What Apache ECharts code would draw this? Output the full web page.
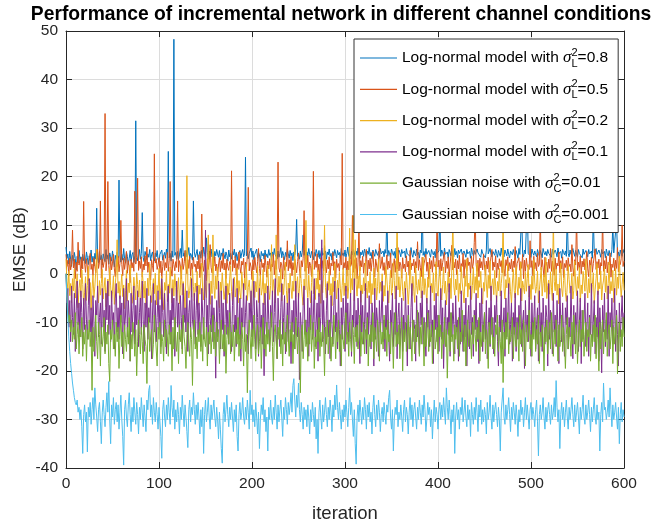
<!DOCTYPE html>
<html>
<head>
<meta charset="utf-8">
<title>EMSE of incremental network</title>
<script src="https://cdn.jsdelivr.net/npm/echarts@6/dist/echarts.min.js"></script>
<style>
  html, body { margin: 0; padding: 0; background: #fff; }
  #chart { width: 653px; height: 527px; }
</style>
</head>
<body>
<div id="chart"></div>
<script>
// EMSE (dB) per iteration, log-normal channel with sigma_L^2 = 0.8
const emseL08 = [
5.5,3.2,4.1,2.0,4.6,3.0,1.5,3.8,2.6,4.4,3.1,0.8,3.6,2.2,4.8,2.9,3.5,1.2,4.0,2.7,
3.9,2.1,4.5,3.3,1.9,3.7,2.8,4.9,2.4,3.6,1.6,4.2,3.0,13.5,3.4,2.2,4.6,2.9,3.8,1.8,
4.1,3.2,2.5,5.0,3.0,3.9,2.0,4.3,3.5,2.6,4.7,3.1,1.4,3.8,2.9,4.4,3.3,19.3,3.9,2.4,
4.0,2.8,5.2,3.1,2.2,4.5,3.6,1.9,3.2,4.8,2.6,3.9,4.4,2.3,3.7,31.5,4.1,2.7,3.5,5.0,
3.0,4.2,12.6,3.3,2.5,4.6,3.8,2.9,4.1,3.4,5.0,2.7,3.9,4.5,3.1,2.6,4.3,3.5,4.8,3.0,
2.4,4.0,3.6,4.9,2.8,3.7,4.4,3.2,5.1,3.9,25.2,3.3,4.2,2.6,4.7,3.4,48.3,3.8,4.4,3.0,
4.6,2.9,3.9,5.2,3.3,9.0,3.6,4.3,2.7,4.8,3.5,4.0,5.4,3.1,4.2,3.7,2.8,15.0,4.5,3.4,
4.1,5.0,2.9,3.8,4.6,3.2,4.9,3.6,5.5,4.0,3.3,7.4,4.4,3.0,4.7,3.9,5.1,3.5,4.2,2.8,
4.6,3.7,5.0,4.1,3.4,4.8,2.9,4.3,3.6,5.2,4.0,3.1,4.5,3.8,2.6,4.9,3.5,4.2,3.0,4.6,
3.9,5.1,3.3,4.4,2.7,4.0,3.6,4.8,3.2,4.3,5.0,3.5,4.1,24.0,3.7,4.6,3.1,4.2,3.8,5.3,
3.4,4.7,2.9,4.0,3.6,5.1,3.2,4.4,3.9,2.5,4.6,3.7,4.2,3.0,4.9,3.5,4.1,3.3,5.0,3.8,
4.3,2.8,4.5,3.6,5.2,3.9,4.0,3.1,4.7,3.4,4.2,5.4,3.3,4.6,3.8,2.9,4.4,3.5,5.0,4.1,
3.2,4.8,3.7,4.3,2.7,4.5,3.9,5.1,11.2,3.6,4.2,3.0,4.7,3.5,4.4,8.0,3.8,4.9,3.1,4.5,
3.7,5.2,4.0,3.3,4.6,3.9,2.9,4.4,3.6,5.0,4.2,3.4,4.8,3.1,4.3,5.3,3.8,4.1,3.5,4.7,
3.0,4.5,3.9,5.1,3.6,4.2,2.8,4.6,3.7,5.0,4.1,3.3,4.8,3.9,4.4,3.2,5.2,3.8,4.3,3.6,
4.9,3.4,4.2,5.5,3.7,4.0,3.1,4.6,3.9,5.0,4.3,3.5,4.7,3.8,5.3,4.1,3.2,4.5,3.9,4.8,
3.6,5.1,4.2,3.3,4.7,4.0,5.4,3.7,4.4,3.1,4.9,4.2,3.6,5.0,4.3,3.8,4.6,3.4,5.2,4.1,
3.9,4.7,3.5,5.0,4.2,12.0,3.6,4.8,4.1,3.3,5.1,4.4,3.8,4.6,3.2,5.3,4.0,3.7,4.9,4.3,
3.5,5.0,4.2,3.9,4.7,3.3,5.2,4.1,3.8,4.5,3.6,5.4,4.0,3.4,4.8,4.2,3.7,5.1,3.9,4.4,
3.2,4.9,4.3,14.0,3.8,4.6,3.5,5.2,4.0,3.7,4.8,4.1,3.4,5.0,4.4,3.9,4.6,3.3,5.1,4.2,
3.8,4.7,12.0,3.6,4.9,4.3,3.5,5.3,4.0,3.8,4.5,3.2,5.0,4.4,3.7,4.8,4.1,3.5,5.2,3.9,
4.6,3.3,4.9,4.2,3.8,5.1,4.0,3.6,4.7,4.3,3.4,5.0,4.1,3.9,4.6,3.2,5.3,4.4,3.7,4.8,
4.0,3.6,5.1,4.3,3.9,4.7,3.4,5.0,4.2,3.8,4.5,3.3,4.9,13.0,4.1,3.7,5.2,4.0,3.5,4.6,
4.3,3.8,5.0,4.2,3.4,4.8,4.1,3.6,5.3,3.9,4.4,3.5,4.9,4.2,3.7,5.1,4.0,3.3,4.7,4.3,
3.9,5.0,4.1,3.6,4.8,4.4,3.2,5.2,4.0,3.8,12.0,4.3,3.5,4.9,4.1,3.7,15.0,4.2,3.9,4.6,
3.4,5.1,4.3,3.8,4.7,4.0,3.5,5.0,4.2,3.6,4.8,4.1,3.3,5.2,4.4,3.9,4.6,3.7,5.0,4.2,
3.8,4.5,3.4,5.1,4.0,3.7,4.9,4.3,3.5,5.3,4.1,3.8,4.6,3.2,5.0,4.4,3.9,4.7,3.6,12.0,
4.2,3.5,4.9,4.0,3.8,5.2,4.3,3.6,4.8,4.1,3.4,5.0,4.2,3.9,4.6,3.3,5.1,4.0,3.7,4.8,
4.4,3.5,5.0,4.1,3.8,4.7,3.2,12.0,4.3,3.9,5.2,4.0,3.6,4.9,4.2,3.4,5.0,4.1,3.8,4.6,
3.3,5.1,4.2,3.7,4.8,4.0,3.5,5.0,10.0,4.3,3.9,4.6,11.0,3.8,4.5,3.2,4.9,4.1,3.6,5.0,
4.2
];

// sigma_L^2 = 0.5
const emseL05 = [
4.0,1.5,2.8,-0.5,3.2,0.8,2.1,9.0,1.2,3.0,-1.0,2.4,0.5,6.5,1.8,2.9,-0.8,3.4,1.0,14.9,
2.2,0.3,3.1,1.4,-1.5,2.6,4.2,0.9,2.0,-0.3,3.3,1.6,0.2,2.7,5.0,1.1,2.4,15.0,-0.9,3.0,
1.3,2.5,33.0,0.6,2.9,19.0,1.7,-1.2,3.5,0.8,2.2,4.0,1.0,-0.6,2.8,1.5,3.6,0.4,2.1,11.0,
1.9,-0.4,3.2,0.9,2.5,4.6,0.1,2.7,1.4,-1.8,3.0,1.2,2.3,0.5,17.0,2.0,3.4,19.7,0.7,2.6,
1.1,3.5,-0.7,2.0,0.8,3.7,1.6,5.5,0.3,2.4,1.0,-1.3,2.9,1.7,0.4,24.7,2.2,3.1,0.9,1.8,
3.3,0.2,2.6,-0.9,1.5,3.8,0.7,2.3,1.2,4.4,0.5,2.8,19.0,1.0,-0.5,3.0,1.9,0.6,2.5,1.3,
15.0,0.4,2.7,1.6,-1.1,3.2,0.9,2.1,4.8,1.4,0.0,2.9,1.1,3.6,-0.4,2.2,0.8,3.4,1.5,2.0,
0.3,2.6,1.0,3.9,-0.8,2.3,12.3,1.7,0.5,2.8,1.2,-1.4,3.1,0.9,2.4,6.0,1.3,0.2,2.9,1.6,
3.5,0.6,2.0,-0.6,1.8,3.3,0.4,2.7,1.1,4.2,0.8,2.2,-1.0,3.0,1.4,0.7,2.5,1.9,21.2,0.5,
2.8,1.2,3.6,-0.3,2.1,0.9,4.5,1.5,0.1,2.6,1.8,3.2,-0.9,2.4,1.0,3.7,17.8,0.6,2.3,1.4,
-1.2,2.9,0.8,3.4,1.6,0.2,2.5,5.2,1.1,-0.5,3.0,1.3,2.2,0.4,3.8,1.7,-0.7,2.6,1.0,3.1,
0.5,2.0,1.4,4.0,-0.2,2.7,0.9,3.3,23.0,1.2,0.3,2.4,1.8,-1.1,3.5,0.7,2.1,1.5,6.8,0.6,
2.9,1.1,3.6,-0.4,2.3,0.8,3.0,1.6,0.2,2.5,4.3,1.0,-0.8,2.7,1.4,3.2,13.0,0.5,2.2,1.2,
3.8,0.0,2.4,1.7,-0.6,3.1,21.1,0.9,2.6,1.3,4.1,0.4,2.0,-1.3,3.3,1.1,2.7,0.6,5.8,1.5,
0.2,2.8,1.0,3.5,-0.3,2.2,1.6,4.4,0.7,2.5,-0.9,3.0,1.3,2.1,0.5,3.7,1.8,24.8,0.9,2.3,
1.2,3.4,-0.5,2.6,0.8,4.0,1.5,2.0,12.0,0.3,2.9,1.1,3.3,-1.0,2.4,10.0,0.6,2.7,1.4,3.6,
0.1,2.2,1.7,5.0,-0.4,2.8,1.0,3.2,0.5,2.4,4.6,1.3,-0.7,3.0,1.8,0.4,2.5,6.2,1.1,2.0,
3.5,0.7,2.3,-0.2,1.6,3.9,0.9,2.6,1.2,4.3,-0.8,2.1,1.5,3.1,0.3,2.7,1.0,5.4,0.6,2.4,
1.8,-0.9,3.3,1.1,2.0,0.4,3.7,1.4,2.6,-0.3,4.8,0.8,2.2,1.6,3.0,0.2,2.5,1.2,6.6,0.7,
2.9,1.3,-0.6,3.4,0.9,2.1,1.7,4.0,0.5,2.4,-1.1,3.2,1.0,2.7,0.3,3.6,1.5,2.0,0.8,12.0,
1.4,2.8,-0.4,3.1,0.6,2.3,1.9,4.5,0.2,2.6,1.1,3.5,-0.7,2.0,1.6,5.9,0.8,2.4,1.2,3.0,
-0.2,2.7,1.0,3.8,0.4,2.1,1.5,4.2,-0.9,2.9,1.3,0.6,3.3,1.7,2.4,0.0,3.6,1.1,2.2,6.4,
12.0,1.9,0.5,2.8,-0.6,3.2,1.2,2.5,0.8,4.1,1.6,-0.3,2.6,1.0,3.4,0.3,2.0,1.8,5.0,0.7,
2.4,1.4,3.7,-0.8,2.2,0.9,3.1,1.5,2.7,0.2,4.4,1.1,-0.5,2.9,1.7,3.5,0.6,2.3,1.0,3.0,
0.4,2.6,1.3,5.6,-0.2,2.1,1.8,3.3,0.7,2.5,1.1,4.0,-1.0,2.8,0.5,3.2,1.6,2.0,0.9,6.8,
1.3,2.7,-0.4,3.6,1.0,2.3,0.6,4.2,1.5,2.0,12.0,0.8,2.9,1.2,-0.7,3.4,1.7,2.4,0.3,3.0,
1.1,5.2,0.5,2.6,1.4,-0.3,3.2,0.9,2.2,1.6,4.5,0.2,2.7,1.0,3.5,-0.8,2.1,1.3,2.8,0.6,
3.3,1.5,2.0,0.4,6.0,1.2,-0.5,2.9,1.8,12.0,0.7,2.4,1.1,3.7,0.0,2.6,1.4,3.1,0.8,2.2,
4.6,1.0,-0.6,2.8,1.5,3.4,0.3,2.1,1.7,5.1,0.9,2.5,1.2,3.0,-0.2,2.3,1.6,12.0,0.5,2.7,
1.0,3.6,0.2,2.4,1.8,4.3,-0.7,2.0,1.3,3.2,0.6,2.8,1.1,5.4,0.4,2.5,1.9,3.1,10.0,1.5,
2.6
];

// sigma_L^2 = 0.2
const emseL02 = [
3.0,-1.5,-3.0,0.5,-4.5,-2.0,-6.0,-1.0,-3.5,1.0,-5.0,-2.5,0.0,-7.0,-3.0,-1.2,-4.8,0.8,-2.2,-6.5,
-3.8,-0.6,-5.5,-2.4,1.5,-4.2,-1.8,-7.5,-3.1,-0.2,-4.9,-2.7,0.6,5.0,-3.6,-6.0,-1.4,-4.4,-2.0,0.9,
-5.2,-2.9,-0.8,-6.8,-3.3,-1.1,-4.6,1.2,-2.5,-5.8,-3.7,-0.4,-6.3,-2.1,0.3,7.0,-4.0,-1.6,-5.1,-2.8,
-0.1,-4.7,-2.3,-7.2,-3.4,0.7,-5.6,-1.9,-3.9,1.8,-2.6,-6.1,-4.3,-0.7,-3.0,-5.4,0.2,-2.2,-4.8,-1.3,
-6.6,-3.5,0.4,-2.0,-5.0,-1.5,-7.0,-3.8,-0.9,-4.5,2.0,-2.7,-5.9,-3.2,-1.0,-4.1,0.1,-6.4,-2.4,-3.6,
1.1,-5.3,-2.9,-0.5,-4.7,-7.4,-1.8,-3.4,0.6,-5.7,-2.2,-4.0,1.4,-3.1,-6.0,-1.2,-4.6,0.0,-2.8,-5.5,
-3.3,-0.8,-6.2,-2.5,1.6,-4.4,-1.6,-3.9,-7.1,0.3,20.2,-2.1,-5.0,-3.5,-0.6,-4.8,1.0,-2.6,-5.6,-1.9,
-3.7,0.5,-6.5,-2.3,-4.2,-1.0,2.2,-3.6,-5.4,-0.3,-2.9,-4.9,0.9,8.0,-3.0,-6.3,-1.5,-4.1,8.0,-2.4,
-5.1,-0.4,-3.2,1.3,-4.5,-7.0,-1.7,-3.8,0.2,-2.7,-5.3,-3.4,0.8,-6.1,-2.0,-4.3,-1.1,1.7,-3.6,-5.7,
-2.5,-0.7,-4.8,-3.0,1.2,-6.0,-1.4,-3.9,-5.2,0.4,-2.3,-4.6,-0.9,-3.3,2.0,-5.5,-2.8,-1.3,-4.2,-6.7,
-3.1,0.6,-2.2,-4.9,-1.6,-3.7,1.5,-5.9,-2.6,-0.2,-4.4,-3.2,0.9,-6.4,-2.0,-4.0,-1.0,1.8,-3.5,-5.3,
-2.4,6.0,-4.7,-1.2,-3.0,-6.0,8.0,-2.7,-4.5,-0.5,-3.8,1.0,-5.6,-2.1,-4.3,-0.8,2.4,-3.4,-6.2,-1.9,
-4.0,0.1,-2.9,-5.1,-1.5,-3.6,6.0,-4.8,-2.3,-0.6,-5.4,-3.1,1.3,-2.0,-4.6,-6.5,-1.1,-3.3,11.0,-2.5,
-4.9,-0.3,-3.6,-6.0,-1.8,1.9,-4.1,-2.6,-5.3,-0.9,-3.2,0.7,-4.7,-2.2,-6.1,-1.4,-3.9,-0.1,10.0,-2.8,
-5.0,-1.6,-3.4,0.5,-4.4,-2.0,-6.6,-0.7,-3.7,2.1,-2.5,-5.2,-1.3,-4.0,0.3,-3.1,-5.8,-2.4,1.1,-4.5,
-1.9,-3.6,0.8,-5.1,-2.7,9.4,-4.2,-1.0,-3.3,12.0,-5.6,7.0,-2.1,-4.6,-0.4,-3.0,1.6,-5.9,-2.3,-4.1,
-0.8,-3.5,2.6,-2.8,-5.0,-1.5,-3.9,0.4,-6.2,-2.0,-4.3,1.2,-3.1,-0.9,-5.4,-2.6,3.0,-4.0,-1.7,-3.6,
0.0,-5.7,-2.4,-4.6,1.5,-1.1,-3.8,-6.0,-2.2,0.7,-4.4,-3.0,2.3,-1.4,-5.2,-2.7,12.0,-3.3,-0.6,-4.8,
-2.1,1.0,-3.7,-5.5,-1.6,-4.1,0.3,-2.9,-6.3,-3.2,2.8,-1.9,-4.5,-0.5,-3.6,-5.9,1.7,-2.4,-4.2,-1.2,
-3.4,0.6,-5.0,-2.6,3.4,-4.3,-1.0,-3.1,-6.1,-0.7,-2.8,1.9,-4.7,-2.0,-3.9,0.2,-5.6,-1.8,2.5,-3.5,
-4.6,-1.3,0.9,-3.0,-5.4,-2.2,1.4,-4.0,-1.5,-6.4,-2.9,0.4,-3.8,-0.9,-5.1,2.1,12.0,-2.5,-4.4,-1.1,
-3.3,0.8,-5.7,-2.0,-4.1,1.6,-1.7,-3.7,-6.0,-0.4,-2.6,3.1,-4.8,-1.9,-3.2,0.1,-5.3,-2.4,1.3,-4.0,
-0.6,-3.4,2.2,-5.0,-1.4,-2.8,0.5,-4.5,-6.2,-1.8,-3.6,1.8,-2.1,-4.9,-0.3,-3.0,2.7,-5.5,-2.3,-1.0,
-4.3,0.7,-2.7,-5.8,-1.6,-3.5,1.1,-4.6,-2.0,0.0,12.0,-3.1,-5.2,-1.2,-2.9,2.0,-4.2,-0.8,-3.7,-6.1,
-1.9,0.9,-3.4,-5.0,1.5,-2.5,-4.4,-0.7,-3.0,2.4,-5.6,-1.5,-2.8,-4.1,0.3,-3.6,-1.0,1.9,-4.8,-2.2,
-5.3,-0.5,-3.2,2.9,-1.7,-4.0,-2.6,0.6,-6.0,-3.3,-1.1,1.4,-4.6,-2.0,-0.2,-3.8,3.3,-5.1,-2.4,-1.3,
-4.2,0.4,-2.9,-5.5,12.0,-1.6,-3.5,1.0,-4.4,-2.1,-6.2,-0.8,2.2,-3.1,-4.7,-1.4,0.8,-3.9,-5.7,-2.5,
1.7,-1.2,-4.0,-2.8,0.1,-5.2,-3.4,2.6,-1.9,-4.5,-0.6,-3.0,1.3,-5.8,-2.3,-4.1,0.5,-1.5,-3.6,3.0,
-2.7,-5.0,-1.0,-3.9,1.8,-4.6,-2.2,0.2,-6.1,-3.3,-0.9,2.1,-4.3,-1.8,-3.1,0.6,-5.4,-2.5,-1.3,1.5,
-3.8,-0.4,-5.2,-2.0,2.4,-4.1,-1.6,-3.5,0.7,-5.9,-2.8,1.1,-4.4,-0.7,-3.0,3.6,-1.9,-4.8,-2.2,0.3,
-3.4
];

// sigma_L^2 = 0.1
const emseL01 = [
0.0,-6.0,-3.0,-11.0,-5.5,-14.0,-2.5,-9.0,-12.5,-4.0,-16.0,-7.5,-1.5,-10.5,-6.0,-13.0,-3.5,-8.0,-15.5,-5.0,
-11.5,-2.0,-9.5,-13.5,-6.5,-1.0,-12.0,-7.0,-15.0,-4.5,-10.0,-17.0,-5.5,-8.5,-2.5,-13.0,-9.0,-6.0,-14.5,-3.0,
-11.0,-7.5,-16.0,-4.0,-9.5,-1.5,-12.5,-6.5,-14.0,-3.5,-10.5,-8.0,-15.5,-5.0,-2.0,-12.0,-7.0,-13.5,-4.5,-10.0,
-6.0,-16.5,-3.0,-11.5,-8.5,-1.0,-13.0,-5.5,-9.0,-18.0,-4.0,-12.0,-7.5,-2.5,-14.5,-6.5,-10.5,-3.5,-15.0,-8.0,
-5.0,-12.5,-1.5,-9.5,-16.0,-6.0,-11.0,-3.0,-13.5,-7.0,-10.0,-4.5,-17.5,-8.5,-2.0,-12.0,-5.5,-14.0,-9.0,-3.5,
-11.5,-6.5,-15.0,-1.0,-8.0,-13.0,-4.0,-10.5,-16.5,-6.0,-2.5,-12.5,-7.5,-14.5,-3.0,-9.5,-5.0,-17.0,-8.5,-1.5,
-11.0,-6.0,-13.5,-4.5,-9.0,-15.5,-2.0,-10.0,-7.0,-12.0,-3.5,-16.0,-8.0,-5.5,-13.0,-1.0,-9.5,-11.5,-4.0,-14.5,
-7.5,-2.5,-12.5,-6.0,-10.5,-15.0,-3.0,-8.5,-13.5,-5.0,9.0,-11.0,-6.5,-16.5,-2.0,-9.0,-12.0,-4.5,-14.0,-7.0,
-10.0,-21.5,-5.5,-13.0,-1.5,-8.0,-15.5,-3.5,-11.5,-6.0,-17.0,-9.5,-2.5,-12.5,-7.5,-14.5,-4.0,-10.5,-16.0,-6.5,
-1.0,-12.0,-8.5,-15.0,-3.0,-9.5,-13.5,-5.0,-18.0,-7.0,-11.0,-2.0,-14.0,-8.0,-4.5,-12.5,-16.5,-6.0,-10.0,-3.5,
-13.0,-7.5,-1.5,-11.5,-15.5,-5.5,-9.0,-17.0,-3.0,-12.0,-8.5,-14.5,-6.0,-21.0,-4.0,-10.5,-13.0,-2.5,-9.5,-16.0,
-6.5,-11.0,-3.5,-14.0,-8.0,-1.0,-12.5,-17.5,-5.0,-10.0,-15.0,-7.0,-2.0,-13.5,-9.0,-4.5,-16.5,-11.5,-6.0,-14.0,
-3.0,-10.5,-18.5,-7.5,-12.0,-5.5,-15.5,-1.5,-9.0,-13.0,-4.0,-21.8,-8.0,-11.0,-16.0,-6.5,-2.5,-12.5,-9.5,-14.5,
-5.0,-17.0,-7.0,-11.5,-3.5,-13.5,-8.5,-1.0,-15.0,-10.0,-6.0,-18.0,-4.0,-12.0,-9.0,7.0,-14.0,-5.5,-11.0,-16.5,
-7.5,-2.0,-13.0,-9.5,-17.5,-4.5,-10.5,-14.5,-6.5,-1.5,-12.0,-8.0,-15.5,-3.0,-11.5,-19.0,-7.0,-13.5,-5.0,-9.0,
-16.0,-2.5,-12.5,-6.0,-14.0,-10.0,-4.0,-17.0,-8.5,-11.0,-1.0,-13.0,-7.5,-15.0,-5.0,-9.5,-18.5,-3.5,-12.0,-6.5,
-14.5,-10.5,-2.0,-16.5,-8.0,-12.5,-4.5,-11.0,-15.5,-6.0,-9.0,-19.0,-3.0,-13.5,-7.0,-10.0,-17.0,-5.5,-12.0,-8.5,
-1.5,-14.0,-9.5,-16.0,-6.5,-11.5,-3.5,-13.0,-18.0,-7.5,-10.5,-4.0,-15.0,-8.0,-12.5,-2.5,-17.5,-9.0,-6.0,-14.5,
-11.0,-5.0,-16.0,-8.5,-13.5,-3.0,-10.0,-19.0,-6.5,-12.0,-15.5,-7.0,-2.0,-14.0,-9.5,-11.5,-18.0,-4.5,-13.0,-8.0,
-16.5,-6.0,-10.5,-3.5,-14.5,-9.0,-12.0,-17.0,-5.0,-11.0,-7.5,-15.0,-2.5,-13.0,-9.5,-18.5,-6.5,-11.5,-4.0,-14.0,
-8.5,-16.0,-10.0,-3.0,-13.5,-7.0,-19.5,-11.0,-5.5,-15.0,-9.0,-12.5,-2.0,-17.0,-8.0,-13.0,-6.0,-10.5,-16.5,-4.5,
-12.0,-9.5,-18.0,-7.0,-14.5,-3.5,-11.0,-16.0,-8.5,-13.0,-5.0,-19.0,-10.0,-6.5,-15.5,-2.5,-12.5,-9.0,-17.0,-7.5,
-11.5,-4.0,-14.0,-9.5,-18.5,-6.0,-12.0,-3.0,-16.0,-10.5,-8.0,-13.5,-5.5,-17.5,-11.0,-7.0,-15.0,-2.5,-12.5,-9.0,
-16.5,-6.5,-10.0,-4.5,-14.0,-19.0,-8.5,-12.0,-3.5,-15.5,-11.0,-7.0,-17.0,-5.0,-13.0,-9.5,-2.0,-14.5,-10.5,-6.0,
-18.0,-8.0,-12.5,-4.0,-16.0,-9.0,-13.5,-6.5,-11.0,-3.0,-15.0,-10.0,-7.5,-19.5,-5.5,-12.0,-8.5,-14.0,-2.5,-11.5,
-17.0,-6.0,-13.0,-9.5,-4.5,-15.5,-10.5,-7.0,-18.0,-3.5,-12.5,-8.0,-16.0,-5.0,-11.0,-14.5,-6.5,-9.0,-19.0,-2.0,
-13.5,-7.5,-10.0,-16.5,-4.0,-12.0,-8.5,-15.0,-5.5,-11.5,-18.5,-3.0,-9.5,-14.0,-6.0,-12.5,-17.0,-7.0,-10.5,-4.5,
-15.5,-9.0,-13.0,-2.5,-11.0,-17.5,-6.5,-14.5,-8.0,-12.0,-3.5,-16.0,-10.0,-5.0,-18.5,-7.5,-13.5,-9.5,-4.0,-15.0,
-11.0,-6.0,-17.0,-8.5,-12.5,-2.0,-14.0,-10.0,-5.5,-16.5,-9.0,-13.0,-3.5,-18.0,-7.0,-11.5,-20.4,-6.5,-12.0,-4.0,
-15.0,-9.5,-13.5,-2.5,-17.0,-8.0,-11.0,-5.0,-14.5,-10.5,-3.0,-16.0,-7.5,-12.5,-19.0,-6.0,-13.0,-9.0,-4.5,-11.5,
-8.0
];

// Gaussian noise, sigma_C^2 = 0.01
const emseC001 = [
0.0,-4.0,-7.5,-10.0,-8.5,-12.0,-9.5,-14.0,-11.0,-13.5,-8.0,-15.5,-12.5,-10.0,-16.5,-11.5,-13.0,-9.0,-17.0,-12.0,
-14.5,-10.5,-18.0,-11.5,-13.5,-9.5,-15.0,-12.0,-24.0,-11.0,-16.0,-13.0,-8.5,-14.0,-17.5,-10.0,-12.5,-19.0,-11.0,-15.0,
-13.0,-9.0,-16.5,-12.0,-14.5,-10.5,-18.5,-22.2,-11.5,-13.5,-9.5,-15.5,-12.5,-17.0,-10.0,-14.0,-11.0,-19.5,-13.0,-8.5,
-15.0,-12.0,-17.5,-10.5,-13.5,-16.0,-11.0,-14.5,-9.0,-18.0,-12.5,-15.5,-10.0,-13.0,-17.0,-11.5,-21.0,-14.0,-9.5,-12.5,
-16.5,-11.0,-14.0,-18.5,-10.5,-13.5,-15.0,-22.6,-12.0,-9.0,-16.0,-13.0,-11.5,-17.5,-14.5,-8.5,-12.0,-15.5,-19.0,-11.0,
-13.5,-10.0,-16.5,-12.5,-14.0,-18.0,-9.5,-15.0,-11.5,-13.0,-17.0,-10.5,-14.5,-12.0,-20.0,-11.0,-15.5,-9.0,-13.5,-16.0,
-12.0,-18.5,-10.5,-14.0,-11.5,-16.5,-8.5,-13.0,-15.0,-19.5,-12.5,-10.0,-14.5,-17.0,-11.0,-13.5,-23.0,-12.0,-9.5,-15.5,
-13.0,-17.5,-11.5,-14.0,-10.0,-16.0,-12.5,-18.0,-9.0,-13.5,-15.0,-11.0,-19.0,-12.0,-14.5,-10.5,-16.5,-13.0,-8.5,-15.5,
-12.0,-17.0,-10.0,-14.0,-11.5,-18.5,-13.0,-9.5,-15.5,-12.5,-16.0,-10.5,-20.5,-13.5,-11.0,-14.5,-8.0,-16.5,-12.0,-15.0,
-10.5,-18.0,-13.0,-11.5,-14.5,-9.0,-17.0,-12.5,-15.5,-10.0,-13.5,-19.0,-11.0,-16.0,-12.5,-24.5,-14.0,-9.5,-13.0,-17.5,
-11.5,-15.0,-8.5,-13.5,-18.0,-12.0,-10.5,-16.5,-14.0,-11.0,-19.5,-13.0,-9.0,-15.5,-12.5,-17.0,-10.0,-14.5,-11.5,-16.0,
-13.0,-8.0,-15.0,-22.0,-12.0,-10.5,-14.0,-17.5,-11.0,-13.5,-9.5,-16.5,-12.5,-19.0,-10.0,-14.5,-12.0,-16.0,-8.5,-13.0,
-17.0,-11.5,-14.0,-10.0,-18.5,-12.5,-15.5,-9.0,-13.0,-16.5,-11.0,-14.0,-24.5,-12.0,-10.5,-17.5,-13.5,-9.5,-15.0,-12.0,
-18.0,-11.0,-14.5,-8.5,-16.0,-12.5,-10.0,-19.5,-13.0,-15.5,-11.5,-14.0,-9.0,-17.0,-12.0,-15.0,-10.5,-13.5,-21.0,-11.0,
-14.5,-9.5,-16.5,-12.5,-10.0,-18.0,-13.0,-15.0,-8.5,-12.0,-17.5,-11.0,-14.0,-9.5,-16.0,-12.5,-19.0,-10.5,-13.5,-15.5,
-11.0,-8.0,-14.5,-12.0,-17.0,-10.0,-13.5,-16.0,-9.5,-12.5,-18.5,-11.0,-14.0,-10.5,-15.5,-13.0,-8.5,-17.0,-12.0,-14.5,
-10.0,-16.5,-11.5,-13.5,-9.0,-19.0,-12.5,-15.0,-10.5,-14.0,-8.0,-17.5,-11.0,-13.0,-16.0,-9.5,-12.5,-18.0,-10.0,-14.5,
-12.0,-15.5,-8.5,-13.5,-11.0,-17.0,-9.5,-14.0,-12.5,-16.5,-10.0,-13.0,-19.5,-11.5,-8.0,-15.0,-12.0,-14.5,-10.5,-17.5,
-13.0,-9.0,-20.0,-11.5,-14.0,-10.0,-16.0,-12.5,-8.5,-15.5,-11.0,-13.5,-18.0,-9.5,-12.0,-16.5,-10.5,-14.0,-7.5,-13.0,
-17.0,-11.0,-14.5,-9.0,-12.5,-19.0,-10.0,-15.0,-13.0,-8.0,-16.0,-11.5,-14.0,-10.5,-18.5,-12.0,-9.5,-15.5,-13.5,-11.0,
-16.5,-8.5,-13.0,-10.5,-17.5,-12.0,-14.5,-9.0,-15.0,-11.5,-21.5,-13.0,-10.0,-16.0,-8.0,-14.0,-12.5,-18.0,-10.5,-13.5,
-11.0,-15.5,-9.0,-17.0,-12.0,-14.0,-7.5,-13.5,-16.0,-10.5,-19.0,-12.0,-9.5,-15.0,-11.5,-13.0,-17.5,-10.0,-14.5,-8.5,
-12.5,-16.0,-11.0,-13.5,-9.0,-18.0,-12.0,-15.0,-10.5,-14.0,-8.0,-16.5,-11.5,-13.0,-19.5,-10.0,-14.5,-12.0,-9.0,-15.5,
-13.0,-17.0,-10.5,-12.5,-8.5,-16.0,-11.0,-14.0,-18.5,-9.5,-22.4,-12.0,-15.5,-10.0,-13.5,-8.0,-16.5,-11.5,-14.0,-12.5,
-9.0,-17.5,-11.0,-13.5,-15.0,-10.0,-12.5,-18.0,-8.5,-14.5,-11.5,-16.0,-9.5,-13.0,-19.0,-10.5,-14.0,-12.0,-7.5,-15.5,
-12.5,-17.0,-10.0,-13.5,-9.0,-16.0,-11.5,-14.5,-8.5,-18.5,-12.0,-15.0,-10.5,-13.0,-20.0,-11.0,-14.0,-9.5,-16.5,-12.5,
-10.0,-15.5,-8.0,-13.0,-17.0,-11.5,-14.5,-9.5,-12.0,-18.0,-10.5,-15.0,-13.5,-8.5,-16.0,-11.0,-14.0,-19.5,-12.5,-9.0,
-15.5,-11.0,-13.5,-17.0,-10.0,-14.5,-8.5,-12.0,-16.5,-10.5,-18.5,-13.0,-9.5,-15.0,-11.5,-14.0,-7.5,-17.0,-12.5,-10.0,
-16.0,-11.5,-13.0,-9.0,-18.0,-12.5,-15.0,-10.5,-14.0,-8.5,-17.5,-11.0,-13.5,-20.0,-10.0,-15.5,-12.0,-9.5,-16.5,-11.5,
-14.0,-8.0,-17.0,-12.5,-10.5,-15.5,-13.0,-9.5,-18.5,-11.0,-14.5,-12.0,-8.5,-20.6,-13.5,-10.0,-16.0,-11.5,-15.0,-9.0,
-13.0
];

// Gaussian noise, sigma_C^2 = 0.001
const emseC0001 = [
0.0,-5.0,-9.5,-13.0,-16.0,-18.5,-20.5,-22.5,-24.0,-25.5,-26.5,-27.0,-26.0,-28.5,-27.5,-30.0,-28.0,-31.5,-37.0,-29.0,
-27.0,-30.5,-28.5,-36.7,-27.5,-29.5,-26.5,-31.0,-28.0,-25.5,-30.0,-23.5,-27.0,-29.5,-32.5,-28.0,-26.5,-30.5,-35.0,-28.5,
-26.0,-29.0,-31.5,-27.5,-24.5,-28.5,-22.2,-30.0,-35.0,-27.0,-29.5,-25.5,-31.0,-28.0,-26.5,-30.5,-27.0,-32.0,-28.5,-25.0,
-30.0,-33.5,-39.4,-28.0,-26.0,-29.5,-31.5,-27.0,-24.5,-29.0,-32.5,-27.5,-30.5,-25.5,-28.5,-31.0,-26.5,-29.0,-33.0,-27.5,
-30.0,-25.5,-28.5,-31.5,-27.0,-29.5,-32.5,-26.0,-28.0,-24.0,-23.0,-29.5,-27.0,-31.0,-25.5,-28.5,-30.5,-26.5,-29.0,-32.0,
-27.5,-30.5,-33.5,-38.0,-28.0,-26.0,-29.5,-31.5,-27.0,-30.0,-25.5,-28.5,-31.0,-23.0,-27.5,-29.5,-26.0,-32.0,-28.0,-30.5,
-26.5,-29.0,-33.0,-27.5,-30.0,-25.0,-28.5,-31.5,-27.0,-29.5,-32.5,-35.8,-28.0,-26.0,-30.5,-27.5,-29.0,-24.5,-28.0,-31.0,
-27.0,-30.0,-26.5,-29.5,-33.0,-28.0,-31.5,-27.5,-37.0,-29.0,-26.0,-30.5,-28.5,-25.5,-29.5,-32.0,-27.0,-30.0,-28.0,-26.0,
-29.5,-31.5,-27.5,-30.0,-34.0,-28.5,-32.0,-36.0,-39.0,-29.0,-26.5,-30.5,-28.0,-25.0,-29.0,-31.5,-27.5,-30.0,-26.5,-29.5,
-32.5,-28.0,-30.5,-27.0,-33.5,-36.5,-29.0,-26.5,-30.0,-28.5,-25.5,-29.5,-31.0,-27.5,-30.0,-26.0,-28.5,-32.0,-24.0,-29.0,
-27.0,-30.5,-28.0,-31.5,-26.5,-29.5,-33.0,-28.5,-36.0,-30.0,-27.0,-29.0,-25.5,-30.5,-28.0,-32.5,-29.5,-36.5,-27.5,-30.0,
-26.0,-29.5,-31.0,-27.5,-30.0,-25.0,-28.5,-32.0,-27.0,-30.5,-28.0,-26.0,-29.5,-33.5,-27.5,-30.0,-25.5,-28.0,-31.0,-26.5,
-29.0,-27.0,-24.5,-28.5,-23.0,-21.6,-26.0,-29.5,-25.0,-27.5,-22.5,-28.0,-30.5,-26.5,-29.0,-32.0,-27.5,-30.0,-28.0,-31.5,
-27.0,-29.5,-33.0,-28.0,-30.5,-26.5,-29.0,-31.5,-27.5,-34.0,-30.0,-37.0,-28.5,-26.0,-29.5,-32.0,-27.0,-30.5,-28.5,-25.5,
-29.0,-31.5,-27.5,-30.0,-26.0,-28.5,-32.5,-27.0,-29.5,-25.0,-28.0,-22.9,-27.5,-30.0,-26.5,-29.0,-32.0,-28.0,-30.5,-27.0,
-29.5,-26.0,-28.5,-31.5,-27.5,-23.5,-29.0,-26.5,-30.0,-33.5,-28.0,-35.0,-39.2,-29.5,-27.0,-30.5,-26.0,-28.5,-31.0,-27.5,
-30.0,-25.5,-28.0,-32.0,-27.0,-29.5,-26.5,-30.5,-28.5,-33.0,-27.5,-25.0,-29.0,-31.5,-27.0,-30.0,-26.0,-28.5,-32.5,-29.0,
-27.5,-30.5,-26.5,-29.0,-31.0,-27.0,-28.5,-25.5,-24.0,-29.5,-32.0,-28.0,-36.5,-30.0,-27.5,-29.0,-26.0,-31.5,-28.5,-30.0,
-27.0,-29.5,-32.5,-28.0,-26.0,-30.5,-27.5,-29.0,-33.0,-28.5,-25.5,-30.0,-27.0,-31.5,-28.0,-26.5,-29.5,-32.0,-27.5,-30.0,
-26.0,-28.5,-31.0,-27.0,-29.5,-25.0,-28.0,-32.5,-30.0,-26.5,-29.0,-27.5,-31.5,-28.0,-34.0,-29.5,-26.0,-30.5,-27.5,-29.0,
-32.0,-28.0,-26.5,-30.0,-27.0,-29.5,-25.5,-28.5,-31.0,-23.5,-27.5,-30.0,-26.0,-29.0,-33.0,-28.0,-30.5,-27.0,-37.0,-29.5,
-26.5,-30.0,-28.0,-32.0,-27.5,-29.0,-25.5,-30.5,-28.5,-26.0,-29.5,-31.5,-27.0,-30.0,-28.0,-33.5,-26.5,-29.0,-31.0,-27.5,
-30.0,-25.5,-28.5,-32.5,-27.0,-29.5,-26.0,-31.0,-28.0,-30.5,-27.5,-29.0,-33.0,-26.5,-30.0,-28.5,-25.0,-29.5,-32.0,-27.0,
-30.5,-28.0,-26.5,-29.0,-31.5,-27.5,-30.0,-36.5,-28.5,-26.0,-23.5,-29.5,-31.0,-27.0,-30.0,-28.0,-25.5,-29.0,-32.5,-27.5,
-30.0,-26.5,-28.5,-31.0,-27.0,-29.5,-33.5,-28.0,-30.5,-26.0,-29.0,-27.5,-31.5,-28.5,-25.5,-30.0,-27.0,-29.5,-32.0,-28.0,
-26.5,-30.0,-27.5,-29.0,-31.5,-28.0,-26.0,-30.5,-37.5,-29.0,-27.0,-30.0,-28.5,-25.5,-29.5,-32.0,-27.5,-30.5,-28.0,-26.5,
-29.0,-31.0,-27.0,-30.0,-28.5,-25.5,-29.5,-22.0,-27.5,-30.5,-28.0,-36.0,-29.0,-26.5,-30.0,-27.5,-31.5,-28.5,-26.0,-29.5,
-32.0,-27.5,-30.0,-28.0,-25.5,-29.0,-31.5,-27.0,-30.5,-28.5,-26.5,-29.5,-33.0,-27.5,-30.0,-28.0,-25.0,-29.5,-31.0,-27.0,
-30.0,-28.5,-26.0,-29.0,-32.5,-27.5,-30.5,-28.0,-25.5,-29.5,-31.0,-27.0,-30.0,-28.5,-36.5,-29.0,-26.5,-30.5,-22.5,-28.0,
-27.5,-30.0,-28.5,-26.0,-29.5,-23.5,-28.0,-31.5,-27.0,-30.0,-28.5,-26.5,-29.5,-32.0,-27.5,-35.0,-29.0,-26.5,-30.5,-28.0,
-29.5
];

// Legend text pieces for each curve, in drawing order
const seriesValues = [emseL08, emseL05, emseL02, emseL01, emseC001, emseC0001];
const legendPrefix = ['Log-normal model with ', 'Log-normal model with ', 'Log-normal model with ',
                      'Log-normal model with ', 'Gaussian noise with ', 'Gaussian noise with '];
const legendSub = ['L', 'L', 'L', 'L', 'C', 'C'];
const legendValue = ['0.8', '0.5', '0.2', '0.1', '0.01', '0.001'];
const lineColors = ['#0072BD', '#D95319', '#EDB120', '#7E2F8E', '#77AC30', '#4DBEEE'];

const xTicks = [0, 100, 200, 300, 400, 500, 600];
const yTicks = [-40, -30, -20, -10, 0, 10, 20, 30, 40, 50];

const FONT = '"Liberation Sans", Arial, Helvetica, sans-serif';
const AXIS_COLOR = '#262626';
const GRID_COLOR = '#dcdcdc';

const names = seriesValues.map((_, i) =>
  legendPrefix[i] + '\u03C3' + legendSub[i] + '\u00B2=' + legendValue[i]);

const chart = echarts.init(document.getElementById('chart'), null, { renderer: 'canvas' });

function axisBase(extra) {
  return Object.assign({
    type: 'value',
    axisLine: { show: true, onZero: false, lineStyle: { color: AXIS_COLOR, width: 1 } },
    axisTick: { show: true, inside: true, length: 6, lineStyle: { color: AXIS_COLOR, width: 1 } },
    axisLabel: { show: false },
    splitLine: { show: false }
  }, extra);
}

const xRange = { min: xTicks[0], max: xTicks[xTicks.length - 1], interval: xTicks[1] - xTicks[0] };
const yRange = { min: yTicks[0], max: yTicks[yTicks.length - 1], interval: yTicks[1] - yTicks[0] };

const option = {
  animation: false,
  backgroundColor: '#ffffff',
  title: {
    text: 'Performance of incremental network in different channel conditions',
    left: 341,
    top: 5,
    padding: 0,
    textAlign: 'center',
    textStyle: { fontFamily: FONT, fontSize: 19.3, fontWeight: 'bold', color: '#000' }
  },
  grid: { left: 66, right: 29, top: 31, bottom: 59, containLabel: false, outerBoundsMode: 'none' },
  xAxis: [
    axisBase(Object.assign({
      position: 'bottom',
      name: 'iteration',
      nameLocation: 'middle',
      nameGap: 36,
      nameTextStyle: { fontFamily: FONT, fontSize: 18.5, color: AXIS_COLOR },
      axisLabel: { show: true, fontFamily: FONT, fontSize: 15.5, color: AXIS_COLOR, margin: 8 },
      splitLine: { show: true, lineStyle: { color: GRID_COLOR, width: 1 } }
    }, xRange)),
    axisBase(Object.assign({ position: 'top' }, xRange))
  ],
  yAxis: [
    axisBase(Object.assign({
      position: 'left',
      name: 'EMSE (dB)',
      nameLocation: 'middle',
      nameGap: 37,
      nameMoveOverlap: false,
      nameTextStyle: { fontFamily: FONT, fontSize: 17, color: AXIS_COLOR },
      axisLabel: { show: true, fontFamily: FONT, fontSize: 15.5, color: AXIS_COLOR, margin: 8 },
      splitLine: { show: true, lineStyle: { color: GRID_COLOR, width: 1 } }
    }, yRange)),
    axisBase(Object.assign({ position: 'right' }, yRange))
  ],
  legend: {
    orient: 'vertical',
    left: 354,
    top: 39,
    padding: [8, 9, 7, 6],
    itemGap: 9.3,
    itemWidth: 37,
    itemHeight: 1.2,
    icon: 'rect',
    backgroundColor: '#ffffff',
    borderColor: '#333333',
    borderWidth: 1,
    selectedMode: false,
    data: names,
    formatter: function (name) {
      const i = names.indexOf(name);
      return '{t|' + legendPrefix[i] + '}{sig|\u03C3}{sup|2}{sub|' + legendSub[i] + '}{t|=' + legendValue[i] + '}';
    },
    textStyle: {
      fontFamily: FONT,
      fontSize: 15.5,
      color: '#000',
      rich: {
        t: { fontFamily: FONT, fontSize: 15.5, color: '#000', lineHeight: 22 },
        sig: { fontFamily: '"Liberation Serif", "DejaVu Serif", serif', fontStyle: 'italic', fontSize: 17, color: '#000', lineHeight: 22 },
        sup: { fontFamily: FONT, fontSize: 11, color: '#000', lineHeight: 5, verticalAlign: 'top', width: 0 },
        sub: { fontFamily: FONT, fontSize: 11, color: '#000', lineHeight: 11, verticalAlign: 'bottom' }
      }
    }
  },
  series: seriesValues.map((vals, i) => ({
    type: 'line',
    name: names[i],
    xAxisIndex: 0,
    yAxisIndex: 0,
    data: vals.map((v, k) => [k, v]),
    showSymbol: false,
    symbol: 'none',
    sampling: null,
    clip: true,
    color: lineColors[i],
    lineStyle: { color: lineColors[i], width: 1 },
    emphasis: { disabled: true }
  }))
};

chart.setOption(option);
</script>
</body>
</html>
